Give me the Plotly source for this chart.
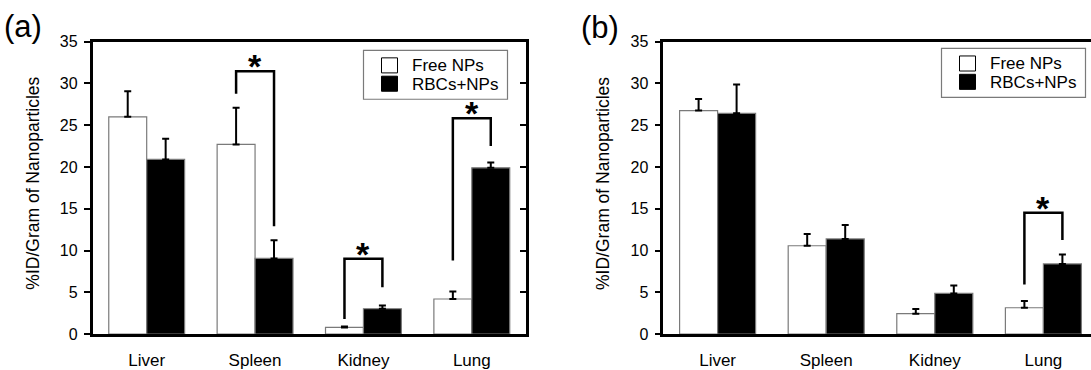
import plotly.graph_objects as go

categories = ["Liver", "Spleen", "Kidney", "Lung"]
series_names = ["Free NPs", "RBCs+NPs"]
series_colors = ["white", "black"]

# Panel (a)
a_free = [26.0, 22.7, 0.8, 4.2]
a_free_err = [3.05, 4.37, 0.12, 0.9]
a_rbc = [20.9, 9.05, 3.03, 19.9]
a_rbc_err = [2.46, 2.17, 0.38, 0.63]

# Panel (b)
b_free = [26.75, 10.57, 2.44, 3.15]
b_free_err = [1.39, 1.42, 0.56, 0.82]
b_rbc = [26.41, 11.39, 4.87, 8.39]
b_rbc_err = [3.45, 1.65, 0.94, 1.13]

y_ticks = [0, 5, 10, 15, 20, 25, 30, 35]

# significance brackets: category index, bracket top, left leg bottom, right leg bottom
a_br_cat = [1, 2, 3]
a_br_top = [31.45, 9.02, 25.83]
a_br_left = [28.75, 1.8, 8.8]
a_br_right = [12.9, 5.6, 22.5]
b_br_cat = [3]
b_br_top = [14.51]
b_br_left = [5.93]
b_br_right = [11.25]

FONT = "Liberation Sans, Arial, Helvetica, sans-serif"
W, H = 1091, 370
GRAY = "#7a7a7a"

fig = go.Figure()


def add_pair(free, free_err, rbc, rbc_err, xa, ya):
    for vals, errs, name, col in ((free, free_err, series_names[0], series_colors[0]),
                                  (rbc, rbc_err, series_names[1], series_colors[1])):
        fig.add_trace(go.Bar(
            x=categories, y=vals, name=name, xaxis=xa, yaxis=ya, showlegend=False,
            marker=dict(color=col, line=dict(color=GRAY, width=1.2)),
            error_y=dict(type="data", symmetric=False, array=errs,
                         arrayminus=[0] * len(vals), color="black", thickness=2, width=3.5),
        ))


add_pair(a_free, a_free_err, a_rbc, a_rbc_err, "x", "y")
add_pair(b_free, b_free_err, b_rbc, b_rbc_err, "x2", "y2")

# invisible trace so the right-hand inside ticks of panel (a) are drawn
fig.add_trace(go.Scatter(x=[categories[0]], y=[0], xaxis="x", yaxis="y3", mode="markers",
                         marker=dict(opacity=0), showlegend=False, hoverinfo="skip"))

ya_dom = [(H - 346.7) / H, (H - 35.7) / H]
xa_dom = [92.5 / W, 526.0 / W]
xb_left = 663.3
cat_px = 108.6
xb_dom = [xb_left / W, 1.0]
xb_range = [-0.5, -0.5 + (W - xb_left) / cat_px]

axis_common = dict(showline=True, linecolor="black", linewidth=2.5, showgrid=False, zeroline=False)
ytick_common = dict(range=[0, 35], tickvals=y_ticks, ticks="outside", ticklen=6, tickwidth=1.5,
                    tickcolor="black", tickfont=dict(size=16), ticklabelstandoff=3)
xtick_common = dict(type="category", mirror=True, ticks="", tickfont=dict(size=17),
                    ticklabelstandoff=9)

fig.update_layout(
    width=W, height=H, margin=dict(l=0, r=0, t=0, b=0),
    paper_bgcolor="white", plot_bgcolor="white",
    font=dict(family=FONT, color="black"),
    barmode="group", bargap=0.3, bargroupgap=0,
    showlegend=False,
    xaxis=dict(domain=xa_dom, anchor="y", range=[-0.5, 3.5], **xtick_common, **axis_common),
    yaxis=dict(domain=ya_dom, anchor="x", mirror=True, **ytick_common, **axis_common),
    yaxis3=dict(overlaying="y", side="right", anchor="x", range=[0, 35], tickvals=y_ticks,
                ticks="inside", ticklen=6, tickwidth=1.5, tickcolor="black",
                showticklabels=False, showline=False, showgrid=False, zeroline=False),
    xaxis2=dict(domain=xb_dom, anchor="y2", range=xb_range, **xtick_common, **axis_common),
    yaxis2=dict(domain=ya_dom, anchor="x2", mirror=False, **ytick_common, **axis_common),
)

shapes = []
annotations = []
OFF = 0.175


def add_brackets(cats, tops, lefts, rights, xr, yr):
    for c, t, l, r in zip(cats, tops, lefts, rights):
        x0, x1 = c - OFF, c + OFF
        shapes.append(dict(type="path", xref=xr, yref=yr,
                           path=f"M {x0},{l} L {x0},{t} L {x1},{t} L {x1},{r}",
                           line=dict(color="black", width=2.5)))
        annotations.append(dict(x=c, y=t, xref=xr, yref=yr, text="<b>*</b>", showarrow=False,
                                font=dict(size=34, family=FONT), xanchor="center",
                                yanchor="middle", yshift=5))


add_brackets(a_br_cat, a_br_top, a_br_left, a_br_right, "x", "y")
add_brackets(b_br_cat, b_br_top, b_br_left, b_br_right, "x2", "y2")


def px_x(v):
    return v / W


def px_y(v):
    return (H - v) / H


def add_legend(left, top):
    # box 144 x 52 px, squares 16 px
    shapes.append(dict(type="rect", xref="paper", yref="paper",
                       x0=px_x(left), x1=px_x(left + 144), y0=px_y(top + 52), y1=px_y(top),
                       line=dict(color=GRAY, width=1.2), fillcolor="white", layer="above"))
    for i, (name, col) in enumerate(zip(series_names, series_colors)):
        sq_top = top + 8 + 19.5 * i
        shapes.append(dict(type="rect", xref="paper", yref="paper",
                           x0=px_x(left + 18), x1=px_x(left + 34),
                           y0=px_y(sq_top + 16), y1=px_y(sq_top),
                           line=dict(color="black", width=1), fillcolor=col, layer="above"))
        annotations.append(dict(x=px_x(left + 46), y=px_y(sq_top + 8.5), xref="paper",
                                yref="paper", text=name, showarrow=False, xanchor="left",
                                yanchor="middle", font=dict(size=17)))


add_legend(363.5, 45)
add_legend(941.5, 43)

ytitle = "%ID/Gram of Nanoparticles"
centered = dict(xref="paper", yref="paper", showarrow=False, xanchor="center", yanchor="middle")
annotations.append(dict(x=px_x(32.7), y=px_y(186), text=ytitle, textangle=-90,
                        font=dict(size=17.5), **centered))
annotations.append(dict(x=px_x(603), y=px_y(186), text=ytitle, textangle=-90,
                        font=dict(size=17.5), **centered))
annotations.append(dict(x=px_x(23), y=px_y(20), text="(a)", font=dict(size=31), **centered))
annotations.append(dict(x=px_x(600), y=px_y(21), text="(b)", font=dict(size=31), **centered))

fig.update_layout(shapes=shapes, annotations=annotations)
fig.write_html(
    "out.html",
    config={"displayModeBar": False},
    post_script="document.body.style.margin='0';document.body.style.padding='0';"
                "document.body.style.overflow='hidden';",
)
